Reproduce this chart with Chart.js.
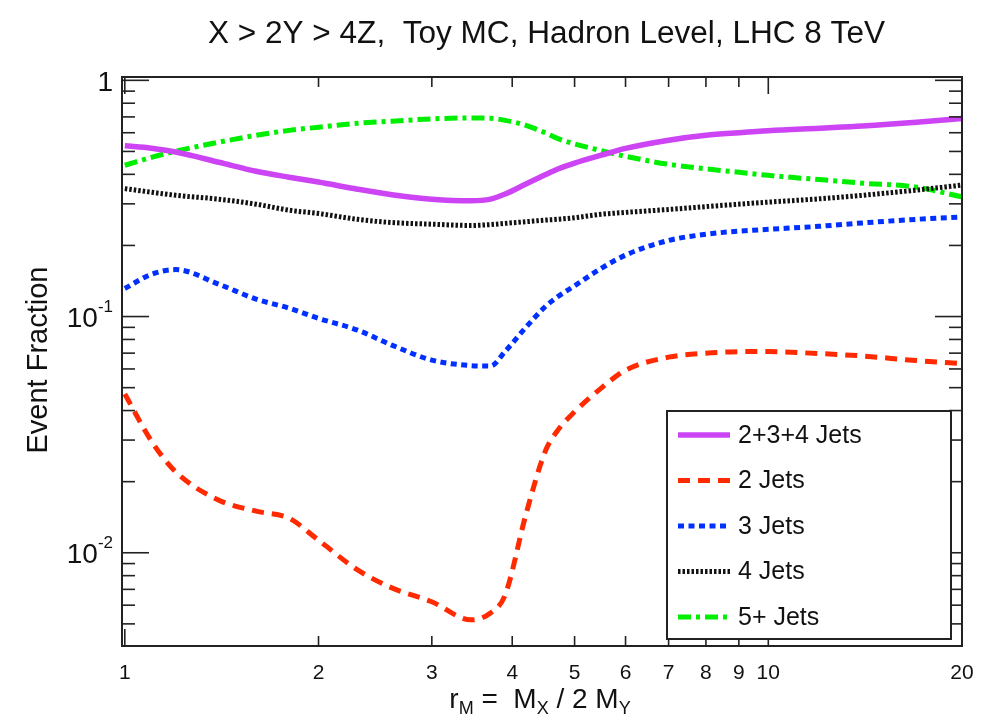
<!DOCTYPE html>
<html>
<head>
<meta charset="utf-8">
<script src="https://cdn.jsdelivr.net/npm/chart.js@4.4.1/dist/chart.umd.min.js"></script>
<style>
  body { margin: 0; background: #fff; }
  #chart { display: block; }
</style>
</head>
<body>
<canvas id="chart" width="995" height="720"></canvas>
<script>
// r_M values sampled along the curves
const rValues = [1, 1.1, 1.2, 1.4, 1.6, 1.8, 2, 2.3, 2.6, 3, 3.45, 3.7, 3.9, 4.2, 4.5, 4.7, 5, 5.5, 6, 7, 8, 9, 10, 12, 14, 17, 20];

const jets234 = [0.528, 0.516, 0.497, 0.45, 0.412, 0.389, 0.371, 0.346, 0.328, 0.314, 0.309, 0.314, 0.33, 0.364, 0.398, 0.42, 0.446, 0.482, 0.515, 0.558, 0.585, 0.6, 0.612, 0.627, 0.64, 0.664, 0.69];
const jets2 = [0.047, 0.0297, 0.022, 0.0167, 0.015, 0.014, 0.0113, 0.00846, 0.0071, 0.0062, 0.0052, 0.00556, 0.00663, 0.0145, 0.0268, 0.0328, 0.0395, 0.0498, 0.0593, 0.0673, 0.07, 0.071, 0.0711, 0.0697, 0.0681, 0.0651, 0.0633];
const jets3 = [0.1315, 0.151, 0.158, 0.137, 0.1185, 0.1085, 0.0982, 0.0876, 0.0757, 0.0654, 0.062, 0.0617, 0.0712, 0.09, 0.11, 0.121, 0.135, 0.16, 0.182, 0.21, 0.223, 0.23, 0.234, 0.241, 0.249, 0.258, 0.264];
const jets4 = [0.348, 0.336, 0.326, 0.314, 0.299, 0.282, 0.273, 0.258, 0.25, 0.246, 0.243, 0.245, 0.248, 0.252, 0.256, 0.258, 0.262, 0.271, 0.276, 0.284, 0.292, 0.299, 0.305, 0.315, 0.326, 0.343, 0.36];
const jets5 = [0.437, 0.472, 0.501, 0.547, 0.585, 0.614, 0.633, 0.658, 0.671, 0.687, 0.693, 0.691, 0.677, 0.645, 0.6, 0.568, 0.538, 0.504, 0.477, 0.441, 0.422, 0.408, 0.396, 0.38, 0.367, 0.353, 0.321];

const seriesLabels = ["2+3+4 Jets", "2 Jets", "3 Jets", "4 Jets", "5+ Jets"];

const xTickValues = [1, 2, 3, 4, 5, 6, 7, 8, 9, 10, 20];
const xTickLabels = ["1", "2", "3", "4", "5", "6", "7", "8", "9", "10", "20"];
const yLabelValues = [1, 0.1, 0.01];
const yLabelExps = ["", "-1", "-2"];

const FONT = '"Liberation Sans", Arial, Helvetica, sans-serif';

const toPoints = (ys) => rValues.map((r, i) => ({ x: r, y: ys[i] }));

const makeSet = (label, ys, color, dash, width) => ({
  label: label,
  data: toPoints(ys),
  borderColor: color,
  backgroundColor: color,
  borderWidth: width,
  borderDash: dash,
  borderCapStyle: "butt",
  pointRadius: 0,
  cubicInterpolationMode: "monotone",
  fill: false
});

const datasets = [
  makeSet(seriesLabels[0], jets234, "#cc44f4", [], 5.5),
  makeSet(seriesLabels[1], jets2, "#ff2a00", [12, 8], 5),
  makeSet(seriesLabels[2], jets3, "#0030ff", [6, 4.5], 5),
  makeSet(seriesLabels[3], jets4, "#111111", [2.5, 2], 5),
  makeSet(seriesLabels[4], jets5, "#00ee00", [13, 5, 4, 5], 5)
];

// draw text with a raised exponent, right aligned at x
const drawPow = (ctx, base, exp, xr, yc, size) => {
  ctx.textBaseline = "middle";
  ctx.textAlign = "left";
  ctx.font = size + "px " + FONT;
  const wb = ctx.measureText(base).width;
  const es = Math.round(size * 0.62);
  ctx.font = es + "px " + FONT;
  const we = exp ? ctx.measureText(exp).width : 0;
  let x0 = xr - wb - we;
  ctx.font = size + "px " + FONT;
  ctx.fillText(base, x0, yc);
  if (exp) {
    ctx.font = es + "px " + FONT;
    ctx.fillText(exp, x0 + wb, yc - size * 0.45);
  }
};

// text pieces with optional subscripts, centered at cx
const drawSubs = (ctx, parts, cx, yb, size) => {
  const ss = Math.round(size * 0.64);
  let total = 0;
  parts.forEach(p => {
    ctx.font = (p[1] ? ss : size) + "px " + FONT;
    total += ctx.measureText(p[0]).width;
  });
  let x0 = cx - total / 2;
  ctx.textAlign = "left";
  ctx.textBaseline = "alphabetic";
  parts.forEach(p => {
    ctx.font = (p[1] ? ss : size) + "px " + FONT;
    ctx.fillText(p[0], x0, p[1] ? yb + size * 0.22 : yb);
    x0 += ctx.measureText(p[0]).width;
  });
};

const framePlugin = {
  id: "frame",
  afterDraw(chart) {
    const ctx = chart.ctx;
    const a = chart.chartArea;
    const xs = chart.scales.x;
    const ys = chart.scales.y;
    ctx.save();

    // frame
    ctx.strokeStyle = "#222";
    ctx.lineWidth = 2;
    ctx.strokeRect(a.left, a.top, a.right - a.left, a.bottom - a.top);

    const line = (x1, y1, x2, y2) => {
      ctx.beginPath(); ctx.moveTo(x1, y1); ctx.lineTo(x2, y2); ctx.stroke();
    };

    // x ticks (bottom and top, pointing inward)
    ctx.lineWidth = 1.6;
    xTickValues.forEach(v => {
      const px = xs.getPixelForValue(v);
      const len = (v === 1 || v === 10) ? 17 : 10;
      line(px, a.bottom, px, a.bottom - len);
      line(px, a.top, px, a.top + len);
    });

    // y ticks, decades long and 2..9 short, both sides
    for (let d = -3; d <= 0; d++) {
      for (let k = 1; k <= 9; k++) {
        const v = k * Math.pow(10, d);
        if (v < ys.min || v > ys.max) continue;
        const py = ys.getPixelForValue(v);
        const len = k === 1 ? 27 : 13;
        line(a.left, py, a.left + len, py);
        line(a.right, py, a.right - len, py);
      }
    }

    ctx.fillStyle = "#111";

    // x tick labels
    ctx.font = "21px " + FONT;
    ctx.textAlign = "center";
    ctx.textBaseline = "middle";
    xTickValues.forEach((v, i) => {
      ctx.fillText(xTickLabels[i], xs.getPixelForValue(v), a.bottom + 27);
    });

    // y tick labels
    yLabelValues.forEach((v, i) => {
      const base = yLabelExps[i] ? "10" : "1";
      drawPow(ctx, base, yLabelExps[i], 113, ys.getPixelForValue(v) + 3, 28);
    });

    // title
    ctx.font = "31px " + FONT;
    ctx.textAlign = "left";
    ctx.textBaseline = "alphabetic";
    const title = "X > 2Y > 4Z,  Toy MC, Hadron Level, LHC 8 TeV";
    const tw = ctx.measureText(title).width;
    ctx.save();
    ctx.translate(208, 43);
    ctx.scale(677 / tw, 1);
    ctx.fillText(title, 0, 0);
    ctx.restore();

    // y axis title
    ctx.save();
    ctx.translate(47, 360);
    ctx.rotate(-Math.PI / 2);
    ctx.font = "29px " + FONT;
    ctx.textAlign = "center";
    ctx.textBaseline = "alphabetic";
    ctx.fillText("Event Fraction", 0, 0);
    ctx.restore();

    // x axis title
    drawSubs(ctx, [["r", false], ["M", true], [" =  M", false], ["X", true], [" / 2 M", false], ["Y", true]], 540, 708, 28);

    // legend
    const lx = 667, ly = 411, lw = 284, lh = 228;
    ctx.fillStyle = "#fff";
    ctx.fillRect(lx, ly, lw, lh);
    ctx.strokeStyle = "#222";
    ctx.lineWidth = 2;
    ctx.strokeRect(lx, ly, lw, lh);
    chart.data.datasets.forEach((ds, i) => {
      const yc = 435 + i * 45.5;
      ctx.strokeStyle = ds.borderColor;
      ctx.lineWidth = ds.borderWidth;
      ctx.lineCap = "butt";
      ctx.setLineDash(ds.borderDash);
      line(678, yc, 730, yc);
      ctx.setLineDash([]);
      ctx.fillStyle = "#111";
      ctx.font = "25px " + FONT;
      ctx.textAlign = "left";
      ctx.textBaseline = "middle";
      ctx.fillText(ds.label, 738, yc + 1);
    });

    ctx.restore();
  }
};

const ctx = document.getElementById("chart").getContext("2d");
const myChart = new Chart(ctx, {
  type: "line",
  data: { datasets: datasets },
  options: {
    responsive: false,
    animation: false,
    devicePixelRatio: 1,
    layout: { padding: { left: 122, right: 33, top: 77, bottom: 74 } },
    scales: {
      x: { type: "logarithmic", min: 0.99, max: 20, display: false },
      y: { type: "logarithmic", min: 0.00403, max: 1.033, display: false }
    },
    plugins: {
      legend: { display: false },
      tooltip: { enabled: false }
    }
  },
  plugins: [framePlugin]
});
</script>
</body>
</html>
